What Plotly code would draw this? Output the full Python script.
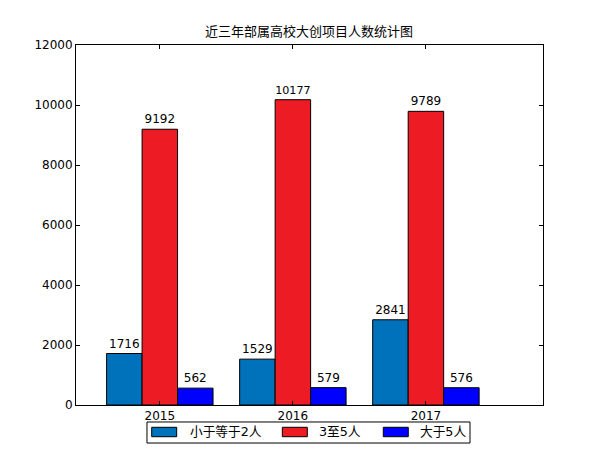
import plotly.graph_objects as go

years = ["2015", "2016", "2017"]
series_names = ["小于等于2人", "3至5人", "大于5人"]
le2 = [1716, 1529, 2841]
mid = [9192, 10177, 9789]
gt5 = [562, 579, 576]
colors = ["#0072BC", "#ED1C24", "#0000FF"]
title = "近三年部属高校大创项目人数统计图"

FONT = "DejaVu Sans, Noto Sans CJK SC, sans-serif"
xpos = list(range(len(years)))

# page body has an 8px margin; figure is sized/offset to compensate
W, H = 592, 442

fig = go.Figure()
for name, vals, c in zip(series_names, [le2, mid, gt5], colors):
    fig.add_trace(go.Bar(
        x=xpos, y=vals, name=name,
        marker=dict(color=c, line=dict(color="black", width=1)),
        text=[str(v) for v in vals], textposition="outside",
        textfont=dict(size=12, color="black", family=FONT),
        cliponaxis=False, showlegend=False,
    ))

# matplotlib-style legend box below the axes (paper coordinates)
legend_box = dict(x0=0.152, x1=0.8437, y0=-0.0472, y1=-0.1056)
patch_x0 = [0.1621, 0.4418, 0.6580]
patch_w = 0.0535
patch_y = (-0.0619, -0.0881)
text_x = [0.2392, 0.5154, 0.7330]
text_y = -0.0742

shapes = [dict(type="rect", xref="paper", yref="paper", line=dict(color="black", width=1),
               fillcolor="white", layer="above", **legend_box)]
annotations = []
for name, c, px, tx in zip(series_names, colors, patch_x0, text_x):
    shapes.append(dict(type="rect", xref="paper", yref="paper", x0=px, x1=px + patch_w,
                       y0=patch_y[0], y1=patch_y[1], fillcolor=c,
                       line=dict(color="black", width=1), layer="above"))
    annotations.append(dict(text=name, xref="paper", yref="paper", x=tx, y=text_y,
                            xanchor="left", yanchor="middle", showarrow=False,
                            font=dict(size=12.7, family=FONT, color="black")))

fig.update_layout(
    width=W, height=H,
    margin=dict(l=68, r=57, t=37, b=45, autoexpand=False),
    paper_bgcolor="white", plot_bgcolor="white",
    barmode="group", bargap=0.2, bargroupgap=0,
    font=dict(family=FONT, size=12, color="black"),
    title=dict(text=title, x=301 / W, xanchor="center", y=1 - 23 / H,
               yanchor="middle", font=dict(size=13, family=FONT, color="black")),
    showlegend=False,
    shapes=shapes, annotations=annotations,
)
fig.update_xaxes(
    range=[-0.63, 2.88], tickvals=xpos, ticktext=years, automargin=False,
    showline=True, linecolor="black", linewidth=1, mirror="ticks",
    ticks="inside", ticklen=4, tickcolor="black", showgrid=False, zeroline=False,
    tickfont=dict(size=12, family=FONT),
)
fig.update_yaxes(
    range=[0, 12000], dtick=2000, tickformat="d", automargin=False,
    showline=True, linecolor="black", linewidth=1, mirror="ticks",
    ticks="inside", ticklen=4, tickcolor="black", showgrid=False, zeroline=False,
    tickfont=dict(size=12, family=FONT),
)
fig.write_html("out.html")
